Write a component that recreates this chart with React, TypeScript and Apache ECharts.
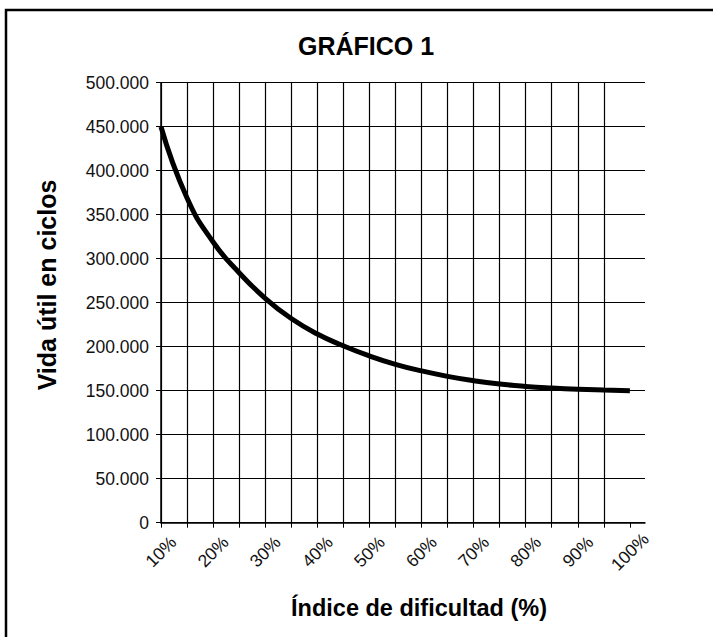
import React, { useEffect, useRef } from "react";
import * as echarts from "echarts";

const xValues = [10, 15, 20, 25, 30, 35, 40, 45, 50, 55, 60, 65, 70, 75, 80, 85, 90, 95, 100];
const lifeCycles = [450000, 369000, 319000, 284000, 255000, 232000, 214500, 201000, 189500, 180000, 172500, 166300, 161400, 157600, 154900, 153000, 151600, 150700, 150000];
const xLabelValues = [10, 20, 30, 40, 50, 60, 70, 80, 90, 100];
const xTickValues = [10, 15, 20, 25, 30, 35, 40, 45, 50, 55, 60, 65, 70, 75, 80, 85, 90, 95, 100];

const titleText = "GRÁFICO 1";
const xName = "Índice de dificultad (%)";
const yName = "Vida útil en ciclos";

const FONT = "'Liberation Sans', Arial, Helvetica, sans-serif";

function fmtThousands(v: number): string {
  return String(Math.round(v)).replace(/\B(?=(\d{3})+(?!\d))/g, ".");
}

export default function App() {
  const ref = useRef<HTMLDivElement>(null);
  useEffect(() => {
    if (!ref.current) return;
    const chart = echarts.init(ref.current, null, { renderer: "svg" });
    chart.setOption({
      animation: false,
      backgroundColor: "#ffffff",
      title: {
        text: titleText,
        left: 361,
        top: 28,
        textAlign: "center",
        textStyle: { fontFamily: FONT, fontWeight: "bold", fontSize: 25, color: "#000" },
      },
      graphic: [
        {
          type: "rect",
          shape: { x: 6, y: 10, width: 800, height: 800 },
          style: { fill: "none", stroke: "#000", lineWidth: 2.5 },
          silent: true,
        },
        {
          type: "text",
          x: 47,
          y: 285,
          rotation: Math.PI / 2,
          style: {
            text: yName,
            fontFamily: FONT,
            fontWeight: "bold",
            fontSize: 25,
            fill: "#000",
            textAlign: "center",
            textVerticalAlign: "middle",
          },
        },
        {
          type: "text",
          x: 419,
          y: 608,
          style: {
            text: xName,
            fontFamily: FONT,
            fontWeight: "bold",
            fontSize: 23.5,
            fill: "#000",
            textAlign: "center",
            textVerticalAlign: "middle",
          },
        },
      ],
      grid: { left: 161, right: 68, top: 82.7, bottom: 114.3, containLabel: false },
      xAxis: {
        type: "value",
        min: 10,
        max: 102.9,
        interval: 5,
        axisLine: { show: true, lineStyle: { color: "#000", width: 1.5 } },
        axisTick: { show: true, length: 5, lineStyle: { color: "#000", width: 1 }, customValues: xTickValues },
        splitLine: { show: true, showMinLine: true, showMaxLine: false, lineStyle: { color: "#000", width: 1.2 } },
        axisLabel: {
          customValues: xLabelValues,
          rotate: 45,
          align: "center",
          verticalAlign: "middle",
          margin: 29,
          fontFamily: FONT,
          fontSize: 17.5,
          color: "#111",
          formatter: (v: number) => `${v}%`,
        },
      },
      yAxis: {
        type: "value",
        min: 0,
        max: 500000,
        interval: 50000,
        axisLine: { show: true, lineStyle: { color: "#000", width: 1.5 } },
        axisTick: { show: true, length: 5, lineStyle: { color: "#000", width: 1 } },
        splitLine: { show: true, lineStyle: { color: "#000", width: 1 } },
        axisLabel: {
          margin: 12,
          fontFamily: FONT,
          fontSize: 17.5,
          color: "#111",
          formatter: (v: number) => fmtThousands(v),
        },
      },
      series: [
        {
          type: "line",
          data: xValues.map((x, i) => [x, lifeCycles[i]]),
          smooth: 0.5,
          showSymbol: false,
          symbol: "none",
          lineStyle: { color: "#000", width: 5 },
          z: 5,
        },
      ],
    });
    return () => chart.dispose();
  }, []);
  return (
    <div
      ref={ref}
      style={{ position: "fixed", left: 0, top: 0, width: 713, height: 637, background: "#fff" }}
    />
  );
}
